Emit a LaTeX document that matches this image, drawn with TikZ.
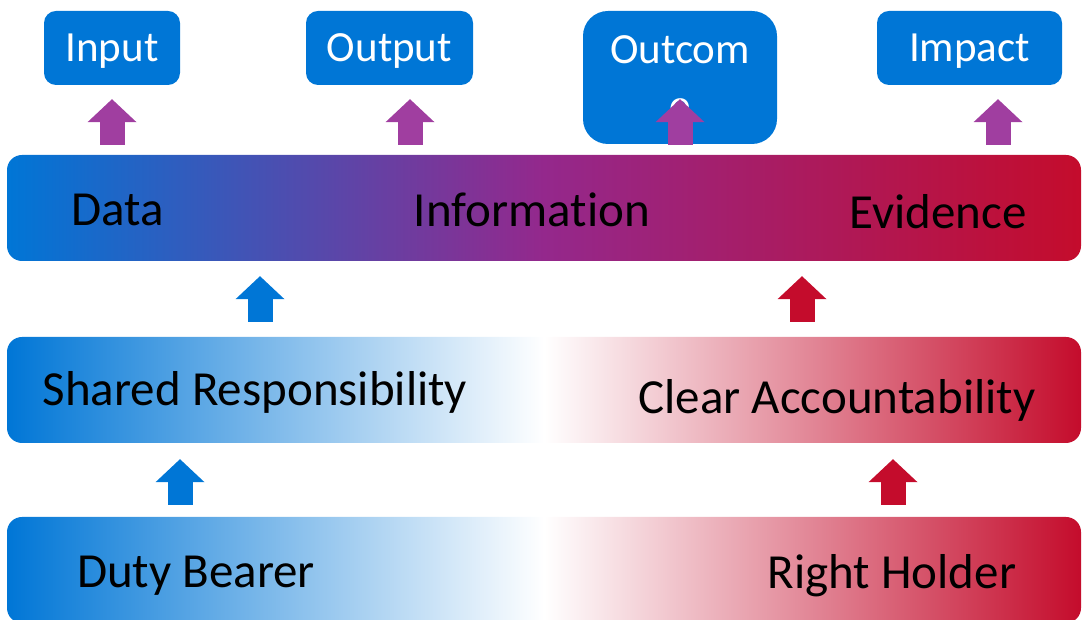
\documentclass[tikz,border=0pt]{standalone}
\usepackage{fontspec}
\setmainfont{Carlito}[Ligatures=NoCommon]
\usetikzlibrary{arrows.meta}
\definecolor{dutyblue}{RGB}{0,118,214}
\definecolor{rightred}{RGB}{196,12,44}
\definecolor{infopurple}{RGB}{148,40,140}
\definecolor{steppurple}{RGB}{160,62,160}
\tikzset{
  /tikz/.cd,
  stage/.style={fill=dutyblue,text=white,rounded corners=12pt,inner sep=0pt,minimum height=74pt,text depth=0pt,font=\fontsize{43}{56}\selectfont},
  band/.style={rounded corners=15pt,minimum width=1074pt,minimum height=106pt,inner sep=0pt,left color=dutyblue,right color=rightred}
}
\begin{document}
\begin{tikzpicture}[x=1pt,y=1pt,
                    bandtext/.style={inner sep=0pt,font=\fontsize{49}{58}\selectfont},
                    rise/.style={line width=25pt,-{Triangle[length=23pt,width=49pt,line width=0pt]}},
                    bluerise/.style={rise,draw=dutyblue},
                    redrise/.style={rise,draw=rightred},
                    purplerise/.style={rise,draw=steppurple}]
      \useasboundingbox (0,0) rectangle (1082,620);

      \node[band,middle color=infopurple] (info) at (544,412) {};
      \node[band,middle color=white] (resp) at (544,230) {};
      \node[band,middle color=white] (role) at (544,50) {};

      \node[bandtext] (data) at (118,410) {Data};
      \node[bandtext] (information) at (532,410) {Information};
      \node[bandtext] (evidence) at (938,408) {Evidence};
      \node[bandtext] (shared) at (255,228) {Shared Responsibility};
      \node[bandtext] (clear) at (837,220) {Clear Accountability};
      \node[bandtext] (duty) at (196,44) {Duty Bearer};
      \node[bandtext] (holder) at (892,44) {Right Holder};

      \node[stage,minimum width=136pt] (input) at (112,572) {Input};
      \node[stage,minimum width=167pt] (output) at (389.5,572) {Output};
      \node[stage,minimum width=194pt,minimum height=133pt,rounded corners=25pt,align=center,text depth=] (outcome) at (680,542.5) {Outcom\\e};
      \node[stage,minimum width=185pt] (impact) at (969.5,572) {Impact};

      \draw[purplerise,shorten <=10pt,shorten >=14pt] (info.north -| 112,0) -- (input.south -| 112,0);
      \draw[purplerise,shorten <=10pt,shorten >=14pt] (info.north -| 410,0) -- (output.south -| 410,0);
      \draw[purplerise,shorten <=10pt] (info.north -| 680,0) -- ([yshift=45pt]outcome.south);
      \draw[purplerise,shorten <=10pt,shorten >=14pt] (info.north -| 998,0) -- (impact.south -| 998,0);

      \draw[bluerise,shorten <=15pt,shorten >=15pt] (resp.north -| 260,0) -- (info.south -| 260,0);
      \draw[redrise,shorten <=15pt,shorten >=15pt] (resp.north -| 802,0) -- (info.south -| 802,0);

      \draw[bluerise,shorten <=12pt,shorten >=16pt] (role.north -| 180,0) -- (resp.south -| 180,0);
      \draw[redrise,shorten <=12pt,shorten >=16pt] (role.north -| 893,0) -- (resp.south -| 893,0);
    \end{tikzpicture}
\end{document}
